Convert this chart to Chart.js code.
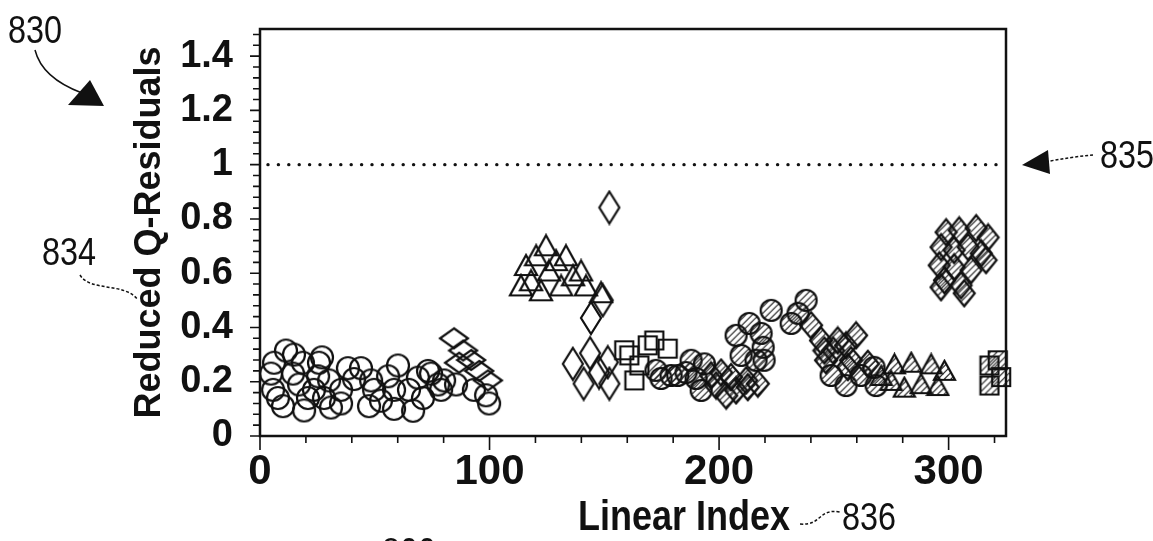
<!DOCTYPE html>
<html><head><meta charset="utf-8">
<script src="https://cdn.jsdelivr.net/npm/chart.js@4.4.1/dist/chart.umd.min.js"></script>
<style>html,body{margin:0;padding:0;background:#fff;overflow:hidden}#wrap{width:1153px;height:541px}</style>
</head><body><div id="wrap"><canvas id="c" width="1153" height="541"></canvas></div>
<script>
// ---------- data ----------
const xTickValues = [0, 100, 200, 300];
const yTickValues = [0, 0.2, 0.4, 0.6, 0.8, 1, 1.2, 1.4];
const thresholdValue = 1;

const openCircleX = [6.1,4.8,5.7,7.8,14.8,14.4,18.7,17.0,19.2,25.7,25.3,23.5,27.9,35.3,35.3,38.3,41.0,44.0,48.4,49.7,47.5,55.8,58.4,60.1,58.4,66.7,64.9,68.8,71.0,74.5,78.9,80.2,99.8,98.5,30.1,30.9,10.0,20.9,52.7,73.2,77.6,93.2,85.4,11.3,27.0];
const openCircleY = [0.27,0.23,0.17,0.14,0.30,0.23,0.27,0.19,0.094,0.27,0.22,0.17,0.14,0.17,0.12,0.25,0.21,0.25,0.205,0.17,0.11,0.22,0.17,0.26,0.10,0.093,0.17,0.215,0.14,0.23,0.17,0.205,0.12,0.15,0.205,0.105,0.11,0.14,0.13,0.24,0.19,0.17,0.19,0.315,0.29];

const wideDiamondX = [84.5, 88.5, 92.0, 95.5, 99.3, 86.7];
const wideDiamondY = [0.36, 0.315, 0.28, 0.24, 0.205, 0.27];

const tallDiamondX = [136.3, 143.8, 141.0, 151.5, 152.2, 147.7, 144.2, 149.3, 152.2];
const tallDiamondY = [0.266, 0.305, 0.193, 0.272, 0.193, 0.234, 0.435, 0.50, 0.842];

const openTriangleX = [113.7,115.9,120.3,124.6,125.9,129.0,133.3,131.2,136.4,139.9,142.0,118.1,122.4,148.6];
const openTriangleY = [0.555,0.63,0.666,0.703,0.61,0.648,0.666,0.555,0.592,0.61,0.555,0.574,0.537,0.53];

const openSquareX = [160.9, 163.1, 168.9, 177.6, 171.8, 165.3, 158.7];
const openSquareY = [0.297, 0.205, 0.334, 0.322, 0.352, 0.26, 0.316];

const hatchedCircleX = [172.5,179.1,185.6,190.0,192.2,187.8,193.6,237.9,234.4,231.4,218.3,219.2,219.6,207.4,213.1,222.7,209.6,216.1,255.3,261.8,268.4,248.8,267.5,174.7,182.0];
const hatchedCircleY = [0.242,0.223,0.234,0.212,0.168,0.279,0.266,0.50,0.452,0.415,0.378,0.327,0.279,0.371,0.415,0.463,0.297,0.279,0.186,0.223,0.186,0.223,0.253,0.212,0.223];

const hatchedDiamondMidX = [198.7,203.1,207.4,211.8,196.5,200.9,205.2,212.5,216.9,240.1,244.4,249.7,255.3,259.7,257.5,246.6,251.7,245.9,256.1,264.8];
const hatchedDiamondMidY = [0.186,0.149,0.168,0.205,0.223,0.234,0.217,0.18,0.193,0.408,0.352,0.315,0.334,0.371,0.279,0.279,0.352,0.315,0.254,0.266];

const hatchedDiamondRightX = [298.9,304.6,312.0,317.2,296.7,302.4,308.5,314.2,295.9,302.4,309.8,316.3,298.2,305.4,296.7,306.8];
const hatchedDiamondRightY = [0.751,0.758,0.766,0.732,0.696,0.685,0.696,0.673,0.629,0.622,0.611,0.648,0.574,0.555,0.548,0.526];

const hatchedTriangleX = [276.4,283.7,292.4,298.2,280.7,288.0,295.3,270.6,274.9];
const hatchedTriangleY = [0.266,0.272,0.266,0.242,0.18,0.193,0.186,0.223,0.205];

const hatchedSquareX = [317.8, 317.8, 321.4, 322.9];
const hatchedSquareY = [0.26, 0.186, 0.279, 0.217];

// ---------- styling ----------
const FONT = '"Liberation Sans", Arial, Helvetica, sans-serif';
const INK = '#111';

function marker(shape, w, h, hatched) {
  const pad = 2;
  const c = document.createElement('canvas');
  c.width = Math.ceil(w + pad * 2); c.height = Math.ceil(h + pad * 2);
  const g = c.getContext('2d');
  const cx = c.width / 2, cy = c.height / 2;
  const path = () => {
    g.beginPath();
    if (shape === 'circle') g.ellipse(cx, cy, w / 2, h / 2, 0, 0, Math.PI * 2);
    else if (shape === 'diamond') { g.moveTo(cx, cy - h / 2); g.lineTo(cx + w / 2, cy); g.lineTo(cx, cy + h / 2); g.lineTo(cx - w / 2, cy); g.closePath(); }
    else if (shape === 'square') g.rect(cx - w / 2, cy - h / 2, w, h);
    else if (shape === 'triangle') { g.moveTo(cx, cy - h / 2); g.lineTo(cx + w / 2, cy + h / 2); g.lineTo(cx - w / 2, cy + h / 2); g.closePath(); }
  };
  if (hatched) {
    path(); g.save(); g.clip();
    g.strokeStyle = '#222'; g.lineWidth = 1.2; g.beginPath();
    for (let k = -c.height; k < c.width + c.height; k += 6.5) { g.moveTo(k, c.height); g.lineTo(k + c.height, 0); }
    g.stroke(); g.restore();
  }
  path(); g.strokeStyle = INK; g.lineWidth = 2.2; g.lineJoin = 'miter'; g.stroke();
  return c;
}

const pts = (xs, ys) => xs.map((x, i) => ({ x, y: ys[i] }));
const ds = (xs, ys, img) => ({ data: pts(xs, ys), pointStyle: img, pointRadius: 11, pointHoverRadius: 11, showLine: false, clip: false, borderColor: INK, backgroundColor: 'transparent' });

const decor = {
  id: 'decor',
  beforeDatasetsDraw(chart) {
    const { ctx, chartArea: a, scales: { y } } = chart;
    ctx.save();
    const ty = y.getPixelForValue(thresholdValue);
    ctx.fillStyle = INK;
    for (let px = a.left + 8; px < a.right - 3; px += 10.4) { ctx.beginPath(); ctx.arc(px, ty, 1.7, 0, Math.PI * 2); ctx.fill(); }
    ctx.restore();
  },
  afterDatasetsDraw(chart) {
    const { ctx, chartArea: a, scales: { x, y } } = chart;
    ctx.save();
    ctx.strokeStyle = INK; ctx.lineWidth = 2.5;
    ctx.strokeRect(a.left, a.top, a.right - a.left, a.bottom - a.top);
    ctx.lineWidth = 1.6;
    ctx.beginPath();
    for (let v = 0; v <= x.max + 1e-9; v += 20) {
      const px = x.getPixelForValue(v);
      const len = (v % 100 === 0) ? 14 : 7;
      ctx.moveTo(px, a.bottom); ctx.lineTo(px, a.bottom + len);
    }
    for (let i = 0; i * 0.04 <= y.max + 1e-9; i++) {
      const py = y.getPixelForValue(i * 0.04);
      const len = (i % 5 === 0) ? 10 : 7;
      ctx.moveTo(a.left, py); ctx.lineTo(a.left - len, py);
    }
    ctx.stroke();
    ctx.restore();
  },
  afterDraw(chart) {
    const ctx = chart.ctx;
    const txt = (t, x, yb, size, weight, sx) => {
      ctx.save(); ctx.fillStyle = INK; ctx.font = `${weight} ${size}px ${FONT}`;
      ctx.textBaseline = 'alphabetic'; ctx.textAlign = 'left';
      ctx.translate(x, yb); ctx.scale(sx, 1); ctx.fillText(t, 0, 0); ctx.restore();
    };
    txt('Linear Index', 578, 530, 42, 'bold', 0.857);
    txt('830', 8, 43, 39, 'normal', 0.83);
    txt('834', 42, 265, 39, 'normal', 0.83);
    txt('835', 1100, 168, 39, 'normal', 0.83);
    txt('836', 842, 530, 39, 'normal', 0.83);
    txt('800', 382, 565, 39, 'normal', 0.83);
    ctx.save();
    ctx.strokeStyle = INK; ctx.fillStyle = INK; ctx.lineWidth = 1.5;
    ctx.beginPath(); ctx.moveTo(35, 50); ctx.quadraticCurveTo(42, 78, 82, 93); ctx.stroke();
    ctx.beginPath(); ctx.moveTo(68, 105); ctx.lineTo(90, 80); ctx.lineTo(104, 106); ctx.closePath(); ctx.fill();
    ctx.setLineDash([3, 2]);
    ctx.beginPath(); ctx.moveTo(80, 275); ctx.bezierCurveTo(90, 292, 125, 282, 138, 300); ctx.stroke();
    ctx.beginPath(); ctx.moveTo(1093, 155); ctx.quadraticCurveTo(1070, 157, 1045, 162); ctx.stroke();
    ctx.beginPath(); ctx.moveTo(800, 524); ctx.bezierCurveTo(822, 526, 818, 508, 840, 512); ctx.stroke();
    ctx.setLineDash([]);
    ctx.beginPath(); ctx.moveTo(1022, 165); ctx.lineTo(1048, 150); ctx.lineTo(1050, 174); ctx.closePath(); ctx.fill();
    ctx.restore();
  }
};

new Chart(document.getElementById('c'), {
  type: 'scatter',
  data: {
    datasets: [
      ds(openCircleX, openCircleY, marker('circle', 22, 22, false)),
      ds(wideDiamondX, wideDiamondY, marker('diamond', 28, 20, false)),
      ds(tallDiamondX, tallDiamondY, marker('diamond', 20, 32, false)),
      ds(openTriangleX, openTriangleY, marker('triangle', 22, 20, false)),
      ds(openSquareX, openSquareY, marker('square', 18, 18, false)),
      ds(hatchedCircleX, hatchedCircleY, marker('circle', 21, 21, true)),
      ds(hatchedDiamondMidX, hatchedDiamondMidY, marker('diamond', 22, 26, true)),
      ds(hatchedDiamondRightX, hatchedDiamondRightY, marker('diamond', 21, 26, true)),
      ds(hatchedTriangleX, hatchedTriangleY, marker('triangle', 21, 19, true)),
      ds(hatchedSquareX, hatchedSquareY, marker('square', 18, 18, true))
    ]
  },
  options: {
    responsive: false, animation: false, devicePixelRatio: 1,
    layout: { padding: { left: 0, top: 29, right: 147, bottom: 0 } },
    plugins: { legend: { display: false }, tooltip: { enabled: false } },
    scales: {
      x: {
        type: 'linear', min: 0, max: 325,
        afterBuildTicks: s => { s.ticks = xTickValues.map(v => ({ value: v })); },
        afterFit: s => { s.height = 105; s.paddingLeft = 0; s.paddingRight = 0; },
        ticks: { color: INK, font: { family: FONT, size: 42, weight: 'bold' }, padding: 11, maxRotation: 0, autoSkip: false },
        grid: { display: false, drawTicks: false }, border: { display: false }
      },
      y: {
        type: 'linear', min: 0, max: 1.5,
        afterBuildTicks: s => { s.ticks = yTickValues.map(v => ({ value: v })); },
        afterFit: s => { s.width = 260; s.paddingTop = 0; s.paddingBottom = 0; },
        ticks: { color: INK, font: { family: FONT, size: 38, weight: 'bold' }, padding: 27, callback: v => String(v) },
        grid: { display: false, drawTicks: false }, border: { display: false },
        title: { display: true, text: 'Reduced Q-Residuals', color: INK, font: { family: FONT, size: 36, weight: 'bold' }, padding: { top: 128, bottom: 0 } }
      }
    }
  },
  plugins: [decor]
});
</script>
</body></html>
